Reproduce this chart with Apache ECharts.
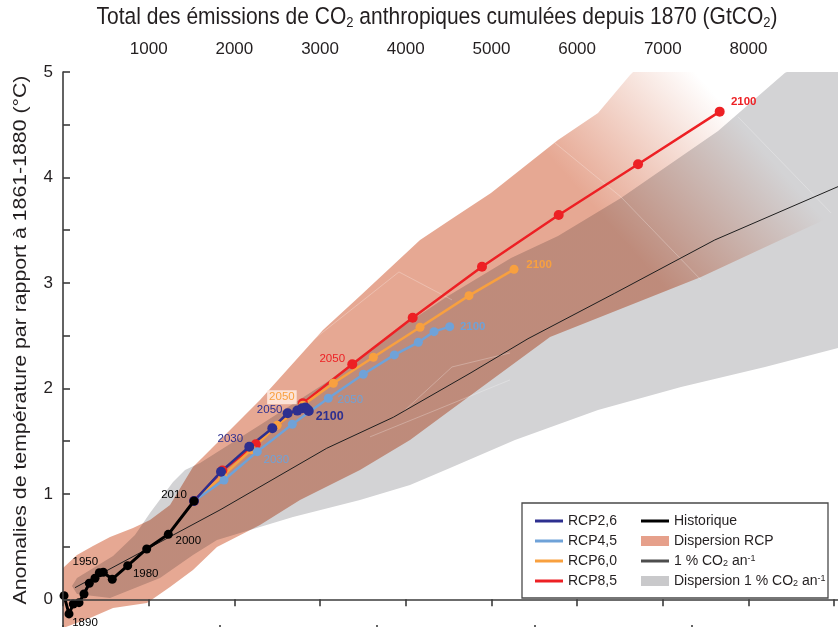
<!DOCTYPE html>
<html><head><meta charset="utf-8">
<script src="https://cdn.jsdelivr.net/npm/echarts@6/dist/echarts.min.js"></script>
<style>html,body{margin:0;padding:0;background:#fff}#c{width:838px;height:627px}</style>
</head><body><div id="c"></div>
<script>
// ---------- data ----------
const emissionTickLabels = [1000, 2000, 3000, 4000, 5000, 6000, 7000, 8000];
const temperatureTickLabels = [0, 1, 2, 3, 4, 5];

const historicYears = ['1880','1890','1900','1910','1920','1930','1940','1950','1960','1970','1980','1990','2000','2010'];
const historic = [[12,0.034],[70,-0.139],[120,-0.045],[187,-0.032],[245,0.050],[307,0.152],[373,0.199],[424,0.252],[470,0.256],[575,0.190],[755,0.319],[977,0.477],[1229,0.616],[1529,0.932]];

const rcpYears = ['2010','2020','2030','2040','2050','2060','2070','2080','2090','2100'];
const rcp26 = [[1529,0.932],[1844,1.210],[2174,1.447],[2443,1.622],[2622,1.764],[2735,1.789],[2790,1.812],[2830,1.818],[2855,1.800],[2868,1.786]];
const rcp45 = [[1529,0.932],[1879,1.131],[2268,1.400],[2676,1.660],[3096,1.906],[3505,2.134],[3867,2.317],[4147,2.437],[4330,2.538],[4513,2.585]];
const rcp60 = [[1529,0.932],[1865,1.170],[2200,1.420],[2500,1.650],[2800,1.840],[3155,2.048],[3622,2.295],[4167,2.579],[4738,2.879],[5264,3.129]];
const rcp85 = [[1529,0.932],[1860,1.220],[2250,1.470],[2800,1.860],[3376,2.229],[4081,2.670],[4890,3.154],[5785,3.644],[6711,4.125],[7664,4.624]];

const onePctCO2 = [[140,0.110],[1832,0.847],[3078,1.432],[3855,1.726],[4750,2.143],[5427,2.471],[6439,2.902],[7606,3.407],[9045,3.913]];

const rcpRangeUpper = [[0,0.297],[163,0.420],[350,0.505],[549,0.591],[817,0.676],[1015,0.752],[1249,0.894],[1517,1.255],[1716,1.416],[2299,1.890],[3034,2.554],[3466,2.876],[4167,3.407],[4517,3.597],[4995,3.853],[5777,4.355],[6244,4.611],[6618,4.971],[6653,5.0],[9769,5.0]];
const rcpRangeLower = [[9769,3.788],[8963,3.627],[8380,3.409],[7446,3.057],[5684,2.488],[5112,2.146],[4493,1.776],[4050,1.511],[3466,1.226],[2766,0.942],[2299,0.705],[1797,0.496],[1517,0.278],[1249,0.117],[980,-0.035],[584,-0.082],[315,-0.177],[0,-0.273]];

const onePctRangeUpper = [[105,0.126],[163,0.202],[584,0.411],[840,0.610],[1015,0.818],[1284,1.112],[1424,1.226],[1599,1.293],[2299,1.653],[3081,2.061],[3933,2.573],[4493,2.876],[5229,3.236],[5777,3.445],[6512,3.805],[7645,4.441],[8427,4.992],[8450,5.0],[9769,5.0]];
const onePctRangeLower = [[9769,2.507],[9045,2.383],[8193,2.203],[7213,2.013],[6244,1.795],[5275,1.511],[4517,1.245],[4050,1.084],[3466,0.942],[2684,0.781],[1797,0.563],[1517,0.420],[1132,0.202],[549,0.012],[163,0.050]];

// faint white outlines inside the ranges
const outline1 = [[2918,2.459],[3921,3.104],[4540,2.839]];
const outline2 = [[3968,1.776],[4540,2.203],[5217,2.336]];
const outline3 = [[5742,4.327],[6512,3.815],[7446,3.028]];
const outline4 = [[7878,4.574],[8963,3.664]];
const outline5 = [[3583,1.540],[5217,2.080]];

// ---------- styling ----------
const FONT = 'Liberation Sans, Arial, sans-serif';
const TXT = '#231f20';
const C26 = '#2d2f8f', C45 = '#6fa2d8', C60 = '#f8a03f', C85 = '#ed2024';
const SALMON = '#e6a893', GREY = '#d3d3d5';
const fadeFrom = [6266, 3.654], fadeTo = [7713, 4.687];   // gradient anchor (style)

const labelPlacement = {
  hist: {'1890':{o:[16,9]}, '1950':{o:[-14,-11]}, '1980':{o:[18,8]}, '2000':{o:[20,7]}, '2010':{o:[-20,-6]}},
  rcp26: {'2030':{o:[-19,-8]}, '2050':{o:[-18,-3]}, '2100':{o:[21,6], b:true, s:12.5}},
  rcp45: {'2030':{o:[19,8]}, '2050':{o:[22,2]}, '2100':{o:[23,0], b:true}},
  rcp60: {'2050':{o:[-21,-8], box:true}, '2100':{o:[25,-4], b:true}},
  rcp85: {'2050':{o:[-20,-5]}, '2100':{o:[24,-10], b:true}}
};

function withLabels(points, years, place, color) {
  return points.map((p, i) => {
    const y = years[i], L = place[y];
    const item = {value: p};
    if (L) {
      item.label = {show: true, formatter: y, position: 'inside', offset: L.o,
        color: color, fontFamily: FONT, fontSize: L.s || 11.5, fontWeight: L.b ? 'bold' : 'normal'};
      if (L.box) { item.label.backgroundColor = 'rgba(255,236,226,0.85)'; item.label.padding = [1, 2]; }
    }
    return item;
  });
}

function polygonRenderer(points, styleFn) {
  return function (params, api) {
    if (params.dataIndex !== 0) return;
    const pts = points.map(p => api.coord(p));
    return {type: 'polygon', shape: {points: pts}, style: styleFn(api), silent: true};
  };
}

function lineSeries(name, pts, years, place, color, size, z) {
  return {
    type: 'line', name: name, data: withLabels(pts, years, place, color), z: z,
    symbol: 'circle', symbolSize: size, showSymbol: true,
    lineStyle: {color: color, width: 2.5}, itemStyle: {color: color, borderWidth: 0},
    label: {show: false}, emphasis: {disabled: true}, silent: true
  };
}

function outlineSeries(pts) {
  return {type: 'line', data: pts, z: 1, symbol: 'none', silent: true,
    lineStyle: {color: '#ffffff', width: 0.8, opacity: 0.33}};
}

const rcpPoly = rcpRangeUpper.concat(rcpRangeLower);
const onePctPoly = onePctRangeUpper.concat(onePctRangeLower);

const lineIcon = 'path://M0,0H28V3H0Z';
const rectIcon = 'path://M0,0H28V10H0Z';
const legendText = {
  fontFamily: FONT, fontSize: 14, color: TXT, lineHeight: 14,
  rich: {sub: {fontFamily: FONT, fontSize: 9, color: TXT, verticalAlign: 'bottom', lineHeight: 8},
         sup: {fontFamily: FONT, fontSize: 9, color: TXT, verticalAlign: 'top', lineHeight: 8}}
};
const legendFmt = n => n.replace('CO2', 'CO{sub|2}').replace('an-1', 'an{sup|-1}');

const chart = echarts.init(document.getElementById('c'), null, {renderer: 'canvas'});
chart.setOption({
  animation: false,
  backgroundColor: '#ffffff',
  grid: {left: 63, top: 72, right: -39, bottom: -25, containLabel: false, outerBoundsMode: 'none'},
  xAxis: [{
    type: 'value', position: 'top', min: 0, max: 9500, interval: 1000, z: 5,
    axisLine: {show: true, lineStyle: {color: '#3c3c3c', width: 1.6}},
    axisTick: {show: true, inside: true, length: 7, lineStyle: {color: '#3c3c3c', width: 1.6}},
    axisLabel: {margin: 14, fontFamily: FONT, fontSize: 17, color: TXT,
      formatter: v => emissionTickLabels.indexOf(v) >= 0 ? String(v) : ''},
    splitLine: {show: false}
  }, {
    type: 'value', position: 'bottom', offset: -20, min: 0, max: 9500 * 12 / 44, interval: 500, z: 5,
    axisLine: {show: true, lineStyle: {color: '#3c3c3c', width: 1.6}},
    axisTick: {show: true, inside: true, length: 7, lineStyle: {color: '#3c3c3c', width: 1.6}},
    axisLabel: {show: false}, splitLine: {show: false}
  }],
  yAxis: {
    type: 'value', min: -0.5, max: 5, interval: 0.5, z: 5,
    axisLine: {show: true, lineStyle: {color: '#3c3c3c', width: 1.6}},
    axisTick: {show: true, inside: true, length: 7, lineStyle: {color: '#3c3c3c', width: 1.6}},
    axisLabel: {margin: 10, fontFamily: FONT, fontSize: 17, color: TXT,
      formatter: v => temperatureTickLabels.indexOf(v) >= 0 ? String(v) : ''},
    splitLine: {show: false}
  },
  legend: [{
    orient: 'vertical', left: 535, top: 514, itemWidth: 28, itemHeight: 14, itemGap: 6,
    selectedMode: false, symbolKeepAspect: true, padding: 0, itemStyle: {borderWidth: 0},
    textStyle: legendText, formatter: legendFmt,
    data: [
      {name: 'RCP2,6', icon: lineIcon, itemStyle: {color: C26, borderWidth: 0}},
      {name: 'RCP4,5', icon: lineIcon, itemStyle: {color: C45, borderWidth: 0}},
      {name: 'RCP6,0', icon: lineIcon, itemStyle: {color: C60, borderWidth: 0}},
      {name: 'RCP8,5', icon: lineIcon, itemStyle: {color: C85, borderWidth: 0}}
    ]
  }, {
    orient: 'vertical', left: 641, top: 514, itemWidth: 28, itemHeight: 14, itemGap: 6,
    selectedMode: false, symbolKeepAspect: true, padding: 0, itemStyle: {borderWidth: 0},
    textStyle: legendText, formatter: legendFmt,
    data: [
      {name: 'Historique', icon: lineIcon, itemStyle: {color: '#000000', borderWidth: 0}},
      {name: 'Dispersion RCP', icon: rectIcon, itemStyle: {color: '#e6a08b', borderWidth: 0}},
      {name: '1 % CO2 an-1', icon: lineIcon, itemStyle: {color: '#4d4d4d', borderWidth: 0}},
      {name: 'Dispersion 1 % CO2 an-1', icon: rectIcon, itemStyle: {color: '#c9c9cb', borderWidth: 0}}
    ]
  }],
  graphic: [
    {type: 'text', x: 437, y: 18, scaleY: 1.12, z: 10,
     style: {text: 'Total des émissions de CO{sub|2} anthropiques cumulées depuis 1870 (GtCO{sub|2})',
       fontFamily: FONT, fontSize: 21, lineHeight: 22, fill: TXT, align: 'center', verticalAlign: 'middle',
       rich: {sub: {fontFamily: FONT, fontSize: 13, fill: TXT, verticalAlign: 'bottom', lineHeight: 10}}}},
    {type: 'text', x: 21, y: 340, rotation: Math.PI / 2, scaleX: 1.15, z: 10,
     style: {text: 'Anomalies de température par rapport à 1861-1880 (°C)', fontFamily: FONT, fontSize: 18.5,
       fill: TXT, align: 'center', verticalAlign: 'middle'}},
    {type: 'rect', z: 3, shape: {x: 522, y: 503, width: 306, height: 95},
     style: {fill: '#ffffff', stroke: '#4a4a4a', lineWidth: 1.3}}
  ],
  series: [
    {type: 'custom', name: 'Dispersion 1 % CO2 an-1', data: onePctPoly, encode: {x: 0, y: 1}, z: 1, silent: true,
     itemStyle: {color: '#c9c9cb'},
     renderItem: polygonRenderer(onePctPoly, () => ({fill: GREY}))},
    {type: 'custom', name: 'Dispersion RCP', data: rcpPoly, encode: {x: 0, y: 1}, z: 1, silent: true,
     blendMode: 'multiply', itemStyle: {color: '#e6a08b'},
     renderItem: polygonRenderer(rcpPoly, api => {
       const a = api.coord(fadeFrom), b = api.coord(fadeTo);
       return {fill: new echarts.graphic.LinearGradient(a[0], a[1], b[0], b[1],
         [{offset: 0, color: SALMON}, {offset: 1, color: '#ffffff'}], true)};
     })},
    outlineSeries(outline1), outlineSeries(outline2), outlineSeries(outline3),
    outlineSeries(outline4), outlineSeries(outline5),
    {type: 'line', name: '1 % CO2 an-1', data: onePctCO2, z: 2, symbol: 'none', silent: true,
     lineStyle: {color: '#1e1e1e', width: 1}, itemStyle: {color: '#4d4d4d'}},
    lineSeries('RCP8,5', rcp85, rcpYears, labelPlacement.rcp85, C85, 10, 3),
    lineSeries('RCP6,0', rcp60, rcpYears, labelPlacement.rcp60, C60, 9, 3),
    lineSeries('RCP4,5', rcp45, rcpYears, labelPlacement.rcp45, C45, 9, 3),
    lineSeries('RCP2,6', rcp26, rcpYears, labelPlacement.rcp26, C26, 10, 3),
    Object.assign(lineSeries('Historique', historic, historicYears, labelPlacement.hist, '#000000', 9, 4),
      {lineStyle: {color: '#000000', width: 3}})
  ]
});
</script>
</body></html>
